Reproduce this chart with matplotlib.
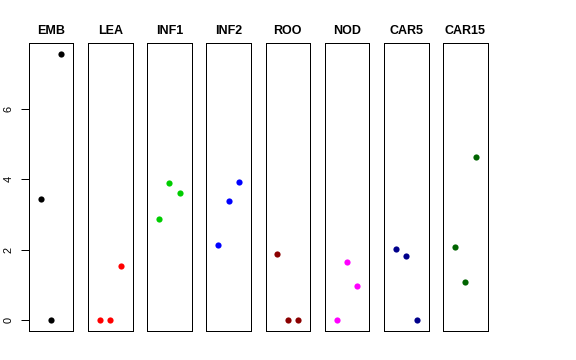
import matplotlib
matplotlib.use("Agg")
import matplotlib.pyplot as plt

groups = ["EMB", "LEA", "INF1", "INF2", "ROO", "NOD", "CAR5", "CAR15"]
colors = ["black", "red", "#00CD00", "blue", "#8B0000", "magenta", "#00008B", "#006400"]
replicate = [1, 2, 3]
values = {
    "EMB":   [3.45, 0.0, 7.57],
    "LEA":   [0.0, 0.0, 1.54],
    "INF1":  [2.87, 3.90, 3.61],
    "INF2":  [2.13, 3.38, 3.94],
    "ROO":   [1.87, 0.0, 0.0],
    "NOD":   [0.0, 1.65, 0.97],
    "CAR5":  [2.03, 1.82, 0.0],
    "CAR15": [2.08, 1.08, 4.64],
}
yticks = [0, 2, 4, 6]

W, H = 576, 360
fig = plt.figure(figsize=(W / 72, H / 72), dpi=72)
plt.rcParams['font.family'] = ['Liberation Sans', 'DejaVu Sans']

lefts = [28.7 + 59.2 * i for i in range(len(groups))]
pw = 44.6
top, bottom = 43.0, 331.0

ymin = min(min(v) for v in values.values())
ymax = max(max(v) for v in values.values())
pad = 0.04 * (ymax - ymin)

for i, (g, c) in enumerate(zip(groups, colors)):
    ax = fig.add_axes([lefts[i] / W, (H - bottom) / H, pw / W, (bottom - top) / H])
    ax.plot(replicate, values[g], 'o', color=c, markersize=6.2, markeredgewidth=0)
    ax.set_xlim(-0.16, 4.16)
    ax.set_ylim(ymin - pad, ymax + pad)
    ax.set_xticks([])
    for s in ax.spines.values():
        s.set_linewidth(1.0)
        s.set_color("black")
    ax.set_title(g, fontsize=12.5, fontweight='bold', pad=9)
    if i == 0:
        ax.set_yticks(yticks)
        ax.set_yticklabels([str(t) for t in yticks], rotation=90, va='center', fontsize=11)
        ax.tick_params(axis='y', length=8, width=1, pad=7)
    else:
        ax.set_yticks([])

fig.savefig("out.png", dpi=72)
